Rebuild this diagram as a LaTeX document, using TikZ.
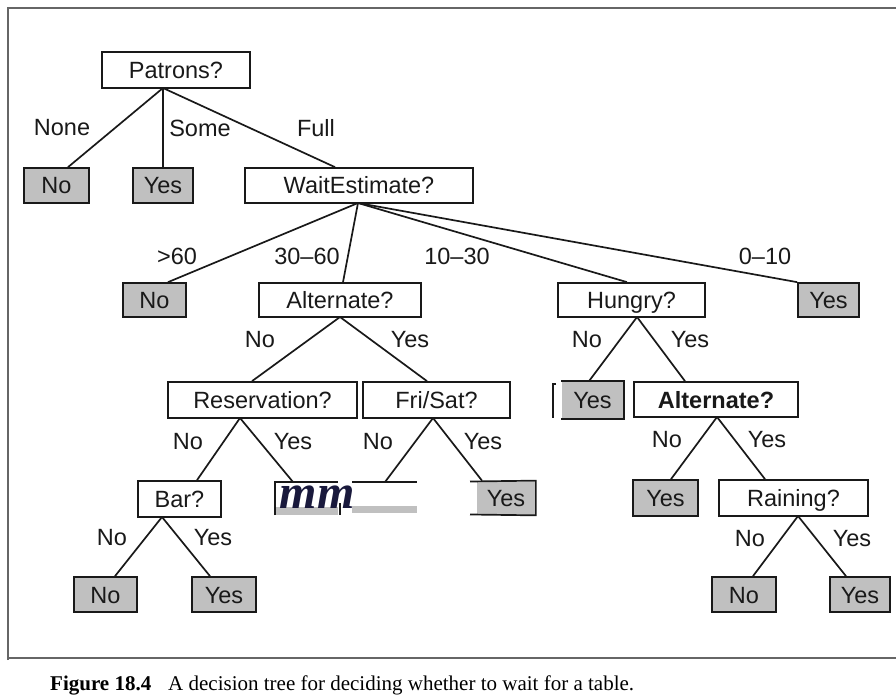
\documentclass[tikz,border=0pt]{standalone}
\usepackage{fontspec}
\setmainfont{Liberation Serif}
\newfontfamily\helv{Liberation Sans}
\definecolor{leafgray}{RGB}{192,192,192}
\definecolor{inkcol}{RGB}{25,25,25}
\definecolor{mmcol}{RGB}{25,25,60}
\tikzset{
  box/.style={draw=inkcol, line width=1.7pt, inner sep=0pt, minimum height=35pt,
    text height=17pt, text depth=0pt, font=\helv\fontsize{23.5}{27}\selectfont, text=inkcol},
  leaf/.style={box, fill=leafgray},
  edge/.style={draw=inkcol, line width=1.7pt},
  lab/.style={inner sep=0pt, font=\helv\fontsize{23.5}{27}\selectfont, text=inkcol},
}
\begin{document}
\begin{tikzpicture}[x=1pt,y=-1pt]
\useasboundingbox (0,0) rectangle (896,700);
% frame
\draw[line width=1.2pt, gray!80!black] (8,660) -- (8,8) -- (896,8);
\draw[line width=1.4pt, gray!80!black] (8,658) -- (896,658);

% level 0
\node[box, minimum width=148pt, minimum height=36pt] (patrons) at (176,70) {Patrons?};
% level 1
\node[leaf, minimum width=65pt] (no1) at (56.5,185.5) {No};
\node[leaf, minimum width=60pt] (yes1) at (163,185.5) {Yes};
\node[box, minimum width=228pt] (wait) at (359,185.5) {WaitEstimate?};
% level 2
\node[leaf, minimum width=63pt, minimum height=34pt] (no2) at (154.5,300) {No};
\node[box, minimum width=162pt, minimum height=34pt] (alt1) at (340,300) {Alternate?};
\node[box, minimum width=147pt, minimum height=34pt] (hungry) at (631.5,300) {Hungry?};
\node[leaf, minimum width=61pt, minimum height=34pt] (yes2) at (828.5,300) {Yes};
% level 3
\node[box, minimum width=189pt, minimum height=36pt] (res) at (262.5,400) {Reservation?};
\node[box, minimum width=147pt, minimum height=36pt] (fri) at (436.5,400) {Fri/Sat?};
\node[leaf, draw=none, minimum width=61pt, minimum height=36pt] (yes3) at (592.5,400) {Yes};
\draw[line width=1.7pt, inkcol] (yes3.north west) -- (yes3.north east) -- (yes3.south east) -- (yes3.south west);
\draw[line width=1.7pt, inkcol] (556,384) -- (553,384) -- (553,418);
\node[box, minimum width=164pt, minimum height=35pt, font=\helv\bfseries\fontsize{23.5}{27}\selectfont] (alt2) at (716,399.5) {Alternate?};
% level 4
\node[box, minimum width=83pt, minimum height=36pt] (bar) at (179.5,499) {Bar?};
% garbled leaves
\fill[leafgray] (275,507) rectangle (338,515);
\fill[leafgray] (352,506) rectangle (417,513);
\draw[line width=1.7pt, inkcol] (275,515) -- (275,482) -- (338,482);
\draw[line width=1.7pt, inkcol] (352,482) -- (417,482);
\draw[line width=1.7pt, inkcol] (340,503) -- (340,515);
\node[inner sep=0pt, anchor=base, text=mmcol, font=\fontsize{48}{52}\selectfont\bfseries\itshape] (mm) at (317,508) {mm};
\coordinate (mmtop) at (293,482);
\coordinate (nofri) at (385,482);
\node[leaf, draw=none, minimum width=58pt, minimum height=33pt] (yes4) at (506,498) {Yes};
\draw[line width=1.7pt, inkcol] (470,481.5) -- (yes4.north east) -- (yes4.south east) -- (470,514.5);
\node[leaf, minimum width=65pt, minimum height=36pt] (yes5) at (665.5,498) {Yes};
\node[box, minimum width=149pt, minimum height=36pt] (rain) at (793.5,498) {Raining?};
% level 5
\node[leaf, minimum width=63pt] (no3) at (105.5,594.5) {No};
\node[leaf, minimum width=64pt] (yes6) at (224,594.5) {Yes};
\node[leaf, minimum width=64pt] (no4) at (744,594.5) {No};
\node[leaf, minimum width=60pt] (yes7) at (860,594.5) {Yes};

% apex coordinates
\coordinate (pA) at (163,88);
\coordinate (wA) at (358,203);
\coordinate (aA) at (340,317);
\coordinate (hA) at (637,317);
\coordinate (rA) at (240,418);
\coordinate (fA) at (433,418);
\coordinate (a2A) at (717,417);
\coordinate (bA) at (162,517);
\coordinate (rnA) at (798,516);

% edges
\draw[edge] (pA) -- (no1.north -| 68,0);
\draw[edge] (pA) -- (yes1.north);
\draw[edge] (pA) -- (wait.north -| 335,0);
\draw[edge] (wA) -- (no2.north -| 168,0);
\draw[edge] (wA) -- (alt1.north -| 343,0);
\draw[edge] (wA) -- (hungry.north -| 627,0);
\draw[edge] (wA) -- (yes2.north west);
\draw[edge] (aA) -- (res.north -| 252,0);
\draw[edge] (aA) -- (fri.north -| 427,0);
\draw[edge] (hA) -- (yes3.north -| 589,0);
\draw[edge] (hA) -- (alt2.north -| 685,0);
\draw[edge] (rA) -- (bar.north -| 197,0);
\draw[edge] (rA) -- (mmtop);
\draw[edge] (fA) -- (nofri);
\draw[edge] (fA) -- (yes4.north -| 482,0);
\draw[edge] (a2A) -- (yes5.north -| 671,0);
\draw[edge] (a2A) -- (rain.north -| 765,0);
\draw[edge] (bA) -- (no3.north -| 115,0);
\draw[edge] (bA) -- (yes6.north -| 210,0);
\draw[edge] (rnA) -- (no4.north -| 753,0);
\draw[edge] (rnA) -- (yes7.north -| 846,0);

% labels
\node[lab] (l1) at (62,128) {None};
\node[lab] (l2) at (200,128) {Some};
\node[lab] (l3) at (316,128) {Full};
\node[lab] (l4) at (177,256) {>60};
\node[lab] (l5) at (307,256) {30–60};
\node[lab] (l6) at (457,256) {10–30};
\node[lab] (l7) at (765,256) {0–10};
\node[lab] (l8) at (260,340) {No};
\node[lab] (l9) at (410,340) {Yes};
\node[lab] (l10) at (587,340) {No};
\node[lab] (l11) at (690,340) {Yes};
\node[lab] (l12) at (188,442) {No};
\node[lab] (l13) at (293,442) {Yes};
\node[lab] (l14) at (378,442) {No};
\node[lab] (l15) at (483,442) {Yes};
\node[lab] (l16) at (667,440) {No};
\node[lab] (l17) at (767,440) {Yes};
\node[lab] (l18) at (112,538) {No};
\node[lab] (l19) at (213,538) {Yes};
\node[lab] (l20) at (750,539) {No};
\node[lab] (l21) at (852,539) {Yes};

% caption
\node[anchor=base west, inner sep=0pt, font=\fontsize{21}{25}\selectfont\bfseries] (fig) at (50,690) {Figure 18.4};
\node[anchor=base west, inner sep=0pt, font=\fontsize{21}{25}\selectfont] (cap) at (168,690) {A decision tree for deciding whether to wait for a table.};
\end{tikzpicture}
\end{document}
